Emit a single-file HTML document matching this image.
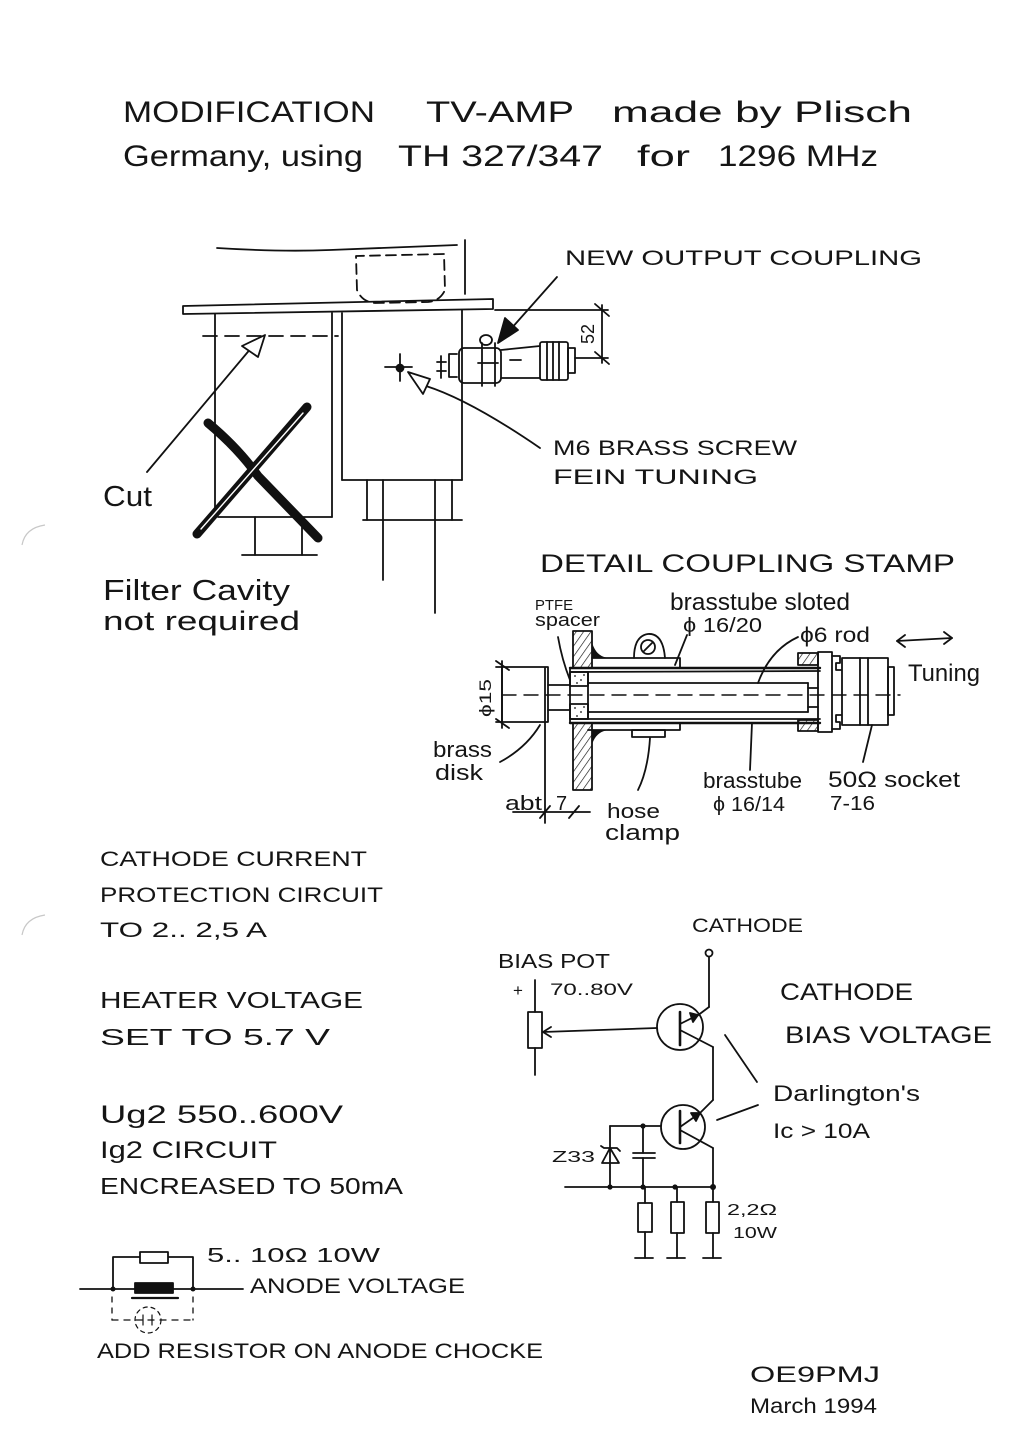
<!DOCTYPE html>
<html><head><meta charset="utf-8"><style>
html,body{margin:0;padding:0;background:#fff;}
svg{display:block;}
text{font-family:"Liberation Sans",sans-serif;fill:#151515;}
</style></head><body>
<svg width="1013" height="1455" viewBox="0 0 1013 1455" xmlns="http://www.w3.org/2000/svg">
<defs>
<pattern id="hatch" patternUnits="userSpaceOnUse" width="6" height="6" patternTransform="rotate(35)">
<line x1="0" y1="0" x2="0" y2="6" stroke="#111" stroke-width="1.3"/>
</pattern>
</defs>
<rect width="1013" height="1455" fill="#fff"/>
<!-- punch holes -->
<path d="M22 545 Q25 528 45 525" fill="none" stroke="#c8c8c8" stroke-width="1.2"/>
<path d="M22 935 Q25 918 45 915" fill="none" stroke="#c8c8c8" stroke-width="1.2"/>

<!-- TITLE -->
<text x="123" y="122" font-size="30" textLength="252" lengthAdjust="spacingAndGlyphs">MODIFICATION</text>
<text x="426" y="122" font-size="30" textLength="148" lengthAdjust="spacingAndGlyphs">TV-AMP</text>
<text x="612" y="122" font-size="30" textLength="300" lengthAdjust="spacingAndGlyphs">made by Plisch</text>
<text x="123" y="166" font-size="30" textLength="240" lengthAdjust="spacingAndGlyphs">Germany, using</text>
<text x="398" y="166" font-size="30" textLength="205" lengthAdjust="spacingAndGlyphs">TH 327/347</text>
<text x="637" y="166" font-size="30" textLength="53" lengthAdjust="spacingAndGlyphs">for</text>
<text x="718" y="166" font-size="30" textLength="160" lengthAdjust="spacingAndGlyphs">1296 MHz</text>

<g fill="none" stroke="#111" stroke-width="1.8" stroke-linecap="round" stroke-linejoin="round">
<!-- TOP DRAWING -->
<path d="M217 248 Q280 252 330 250 L457 245"/>
<line x1="465" y1="240" x2="465" y2="294"/>
<path d="M357 290 L356 256 L444 254 L445 290 Q440 301 428 302 L375 303 Q362 302 357 290" stroke-dasharray="10 6"/>
<polygon points="183,306 493,299 493,309 183,314"/>
<!-- left cavity -->
<line x1="215" y1="314" x2="215" y2="517"/>
<line x1="332" y1="313" x2="332" y2="517"/>
<line x1="218" y1="517" x2="332" y2="517"/>
<line x1="203" y1="336" x2="338" y2="336" stroke-dasharray="14 8"/>
<line x1="255" y1="517" x2="255" y2="555"/>
<line x1="302" y1="517" x2="302" y2="555"/>
<line x1="242" y1="555" x2="317" y2="555"/>
<!-- right cavity -->
<line x1="342" y1="313" x2="342" y2="480"/>
<line x1="462" y1="310" x2="462" y2="480"/>
<line x1="342" y1="480" x2="462" y2="480"/>
<line x1="367" y1="480" x2="367" y2="520"/>
<line x1="452" y1="480" x2="452" y2="520"/>
<line x1="363" y1="520" x2="462" y2="520"/>
<line x1="383" y1="480" x2="383" y2="580"/>
<line x1="435" y1="480" x2="435" y2="613"/>
<!-- cut arrow -->
<line x1="147" y1="472" x2="252" y2="347"/>
<polygon points="265,335 242,346 258,357" fill="#fff"/>
<!-- crosshair -->
<line x1="385" y1="367" x2="412" y2="367"/>
<line x1="400" y1="354" x2="400" y2="381"/>
<circle cx="400" cy="368" r="3.5" fill="#111"/>
<!-- M6 arrow -->
<path d="M540 448 Q470 400 426 386"/>
<polygon points="408,372 430,379 423,394" fill="#fff"/>
<!-- new output coupling arrow -->
<line x1="557" y1="277" x2="510" y2="330"/>
<polygon points="498,343 505,318 518,330" fill="#111"/>
<!-- coupling assembly -->
<path d="M457 354 L449 354 L449 377 L457 377"/>
<line x1="441" y1="356" x2="441" y2="378"/>
<line x1="437" y1="362" x2="446" y2="362"/>
<line x1="437" y1="371" x2="446" y2="371"/>
<rect x="459" y="348" width="42" height="35" rx="5"/>
<line x1="482" y1="343" x2="482" y2="386"/>
<line x1="495" y1="343" x2="495" y2="386"/>
<line x1="478" y1="363" x2="498" y2="363"/>
<ellipse cx="486" cy="340" rx="6" ry="5"/>
<line x1="501" y1="350" x2="540" y2="346"/>
<line x1="501" y1="378" x2="540" y2="378"/>
<line x1="510" y1="360" x2="521" y2="360"/>
<rect x="540" y="342" width="28" height="38" rx="2"/>
<line x1="547" y1="342" x2="547" y2="380"/>
<line x1="553" y1="342" x2="553" y2="380"/>
<line x1="559" y1="342" x2="559" y2="380"/>
<rect x="568" y="348" width="7" height="25"/>
<!-- dim 52 -->
<line x1="495" y1="310" x2="608" y2="310"/>
<line x1="575" y1="358" x2="608" y2="358"/>
<line x1="602" y1="305" x2="602" y2="363"/>
<line x1="595" y1="304" x2="609" y2="316"/>
<line x1="595" y1="352" x2="609" y2="364"/>
</g>
<!-- big X -->
<g stroke-linecap="round" fill="none">
<path d="M208 423 Q238 448 258 476 L318 538" stroke="#111" stroke-width="9"/>
<line x1="307" y1="407" x2="197" y2="534" stroke="#111" stroke-width="9"/>
<line x1="303" y1="413" x2="201" y2="529" stroke="#fff" stroke-width="1.4"/>
</g>
<text x="0" y="0" font-size="18" transform="translate(594,344) rotate(-90)" textLength="20" lengthAdjust="spacingAndGlyphs">52</text>

<text x="565" y="265" font-size="21" textLength="357" lengthAdjust="spacingAndGlyphs">NEW OUTPUT COUPLING</text>
<text x="553" y="455" font-size="21" textLength="244" lengthAdjust="spacingAndGlyphs">M6 BRASS SCREW</text>
<text x="553" y="484" font-size="21" textLength="205" lengthAdjust="spacingAndGlyphs">FEIN TUNING</text>
<text x="103" y="506" font-size="29" textLength="49" lengthAdjust="spacingAndGlyphs">Cut</text>
<text x="103" y="600" font-size="29" textLength="187" lengthAdjust="spacingAndGlyphs">Filter Cavity</text>
<text x="103" y="630" font-size="27" textLength="197" lengthAdjust="spacingAndGlyphs">not required</text>

<!-- DETAIL -->
<text x="540" y="572" font-size="25" textLength="415" lengthAdjust="spacingAndGlyphs">DETAIL COUPLING STAMP</text>
<g fill="none" stroke="#111" stroke-width="1.8" stroke-linecap="round" stroke-linejoin="round">
<!-- wall -->
<rect x="573" y="631" width="19" height="37" fill="url(#hatch)"/>
<rect x="573" y="723" width="19" height="67" fill="url(#hatch)"/>
<path d="M592 644 Q596 656 606 658 L592 658 Z" fill="#111" stroke-width="1"/>
<path d="M592 743 Q596 732 606 730 L592 730 Z" fill="#111" stroke-width="1"/>
<!-- disk -->
<rect x="502" y="667" width="46" height="55"/>
<line x1="545" y1="668" x2="545" y2="721"/>
<line x1="496" y1="667" x2="502" y2="667"/>
<line x1="496" y1="722" x2="502" y2="722"/>
<line x1="548" y1="685" x2="570" y2="685"/>
<line x1="548" y1="710" x2="570" y2="710"/>
<!-- tube -->
<line x1="570" y1="668" x2="820" y2="668" stroke-width="2.4"/>
<line x1="570" y1="672" x2="820" y2="671"/>
<line x1="570" y1="719" x2="820" y2="719"/>
<line x1="570" y1="723" x2="820" y2="723" stroke-width="2.4"/>
<line x1="570" y1="668" x2="570" y2="723"/>
<!-- rod -->
<line x1="588" y1="683" x2="808" y2="683"/>
<line x1="588" y1="712" x2="808" y2="712"/>
<line x1="588" y1="672" x2="588" y2="719"/>
<line x1="808" y1="683" x2="808" y2="712"/>
<line x1="808" y1="688" x2="818" y2="688"/>
<line x1="808" y1="707" x2="818" y2="707"/>
<rect x="570" y="672" width="18" height="14"/>
<rect x="570" y="704" width="18" height="15"/>
<line x1="502" y1="695" x2="900" y2="695" stroke-dasharray="14 8" stroke-width="1.4"/>
<!-- sleeves -->
<path d="M592 658 L680 658 L680 668"/>
<path d="M588 730 L680 730 L680 723"/>
<rect x="632" y="730" width="33" height="7"/>
<path d="M634 658 Q634 636 648 634 Q663 633 665 658"/>
<circle cx="648" cy="647" r="7"/>
<line x1="644" y1="651" x2="652" y2="643"/>
<!-- right end -->
<rect x="798" y="653" width="20" height="12" fill="url(#hatch)"/>
<rect x="798" y="720" width="20" height="11" fill="url(#hatch)"/>
<rect x="818" y="652" width="14" height="80"/>
<path d="M832 656 L840 656 L840 663 L836 663 L836 670 L841 670 M832 729 L840 729 L840 722 L836 722 L836 715 L841 715"/>
<rect x="842" y="658" width="46" height="67"/>
<line x1="860" y1="658" x2="860" y2="725"/>
<line x1="868" y1="658" x2="868" y2="725"/>
<rect x="888" y="667" width="6" height="48"/>
<!-- phi15 dim -->
<line x1="502" y1="661" x2="502" y2="728"/>
<line x1="496" y1="661" x2="509" y2="670"/>
<line x1="496" y1="719" x2="509" y2="728"/>
<!-- abt 7 dim -->
<line x1="545" y1="722" x2="545" y2="823"/>
<line x1="513" y1="812" x2="590" y2="812"/>
<line x1="540" y1="818" x2="550" y2="806"/>
<line x1="569" y1="818" x2="579" y2="806"/>
<!-- leaders -->
<path d="M558 637 Q562 660 570 680"/>
<line x1="687" y1="635" x2="675" y2="665"/>
<path d="M798 637 Q770 650 758 683"/>
<path d="M500 762 Q526 748 540 725"/>
<line x1="752" y1="723" x2="750" y2="770"/>
<line x1="872" y1="725" x2="863" y2="762"/>
<path d="M650 738 Q648 770 638 790"/>
<!-- tuning arrow -->
<line x1="897" y1="641" x2="952" y2="638"/>
<path d="M905 635 L897 641 L905 647"/>
<path d="M944 632 L952 638 L944 644"/>
</g>
<g fill="#111">
<circle cx="575" cy="676" r="0.9"/><circle cx="581" cy="680" r="0.9"/><circle cx="577" cy="683" r="0.9"/><circle cx="584" cy="675" r="0.9"/>
<circle cx="575" cy="708" r="0.9"/><circle cx="581" cy="712" r="0.9"/><circle cx="577" cy="716" r="0.9"/><circle cx="584" cy="707" r="0.9"/>
</g>
<text x="535" y="610" font-size="15" textLength="38" lengthAdjust="spacingAndGlyphs">PTFE</text>
<text x="535" y="626" font-size="18" textLength="65" lengthAdjust="spacingAndGlyphs">spacer</text>
<text x="670" y="610" font-size="24" textLength="180" lengthAdjust="spacingAndGlyphs">brasstube sloted</text>
<text x="683" y="632" font-size="20" textLength="79" lengthAdjust="spacingAndGlyphs">ϕ 16/20</text>
<text x="800" y="642" font-size="21" textLength="70" lengthAdjust="spacingAndGlyphs">ϕ6 rod</text>
<text x="908" y="681" font-size="24" textLength="72" lengthAdjust="spacingAndGlyphs">Tuning</text>
<text x="0" y="0" font-size="17" transform="translate(491,717) rotate(-90)" textLength="38" lengthAdjust="spacingAndGlyphs">ϕ15</text>
<text x="433" y="757" font-size="22" textLength="59" lengthAdjust="spacingAndGlyphs">brass</text>
<text x="435" y="780" font-size="22" textLength="48" lengthAdjust="spacingAndGlyphs">disk</text>
<text x="505" y="810" font-size="20" textLength="37" lengthAdjust="spacingAndGlyphs">abt</text>
<text x="556" y="810" font-size="20">7</text>
<text x="607" y="818" font-size="20" textLength="53" lengthAdjust="spacingAndGlyphs">hose</text>
<text x="605" y="840" font-size="22" textLength="75" lengthAdjust="spacingAndGlyphs">clamp</text>
<text x="703" y="788" font-size="22" textLength="99" lengthAdjust="spacingAndGlyphs">brasstube</text>
<text x="713" y="811" font-size="20" textLength="72" lengthAdjust="spacingAndGlyphs">ϕ 16/14</text>
<text x="828" y="787" font-size="22" textLength="132" lengthAdjust="spacingAndGlyphs">50Ω socket</text>
<text x="830" y="810" font-size="20" textLength="45" lengthAdjust="spacingAndGlyphs">7-16</text>

<!-- LEFT TEXT -->
<text x="100" y="866" font-size="21" textLength="267" lengthAdjust="spacingAndGlyphs">CATHODE CURRENT</text>
<text x="100" y="902" font-size="21" textLength="283" lengthAdjust="spacingAndGlyphs">PROTECTION CIRCUIT</text>
<text x="100" y="937" font-size="21" textLength="167" lengthAdjust="spacingAndGlyphs">TO 2.. 2,5 A</text>
<text x="100" y="1008" font-size="23" textLength="263" lengthAdjust="spacingAndGlyphs">HEATER VOLTAGE</text>
<text x="100" y="1045" font-size="23" textLength="230" lengthAdjust="spacingAndGlyphs">SET TO 5.7 V</text>
<text x="100" y="1123" font-size="25" textLength="243" lengthAdjust="spacingAndGlyphs">Ug2 550..600V</text>
<text x="100" y="1158" font-size="24" textLength="177" lengthAdjust="spacingAndGlyphs">Ig2 CIRCUIT</text>
<text x="100" y="1194" font-size="23" textLength="303" lengthAdjust="spacingAndGlyphs">ENCREASED TO 50mA</text>

<!-- CIRCUIT -->
<g fill="none" stroke="#111" stroke-width="1.8" stroke-linecap="round" stroke-linejoin="round">
<circle cx="709" cy="953" r="3.5"/>
<line x1="709" y1="957" x2="709" y2="1007"/>
<line x1="709" y1="1007" x2="697" y2="1016"/>
<circle cx="680" cy="1027" r="23"/>
<line x1="680" y1="1012" x2="680" y2="1045" stroke-width="2.6"/>
<line x1="680" y1="1024" x2="698" y2="1015"/>
<path d="M690 1013 L698 1015 L693 1022 Z" fill="#111"/>
<line x1="680" y1="1030" x2="713" y2="1047"/>
<line x1="713" y1="1047" x2="713" y2="1100"/>
<line x1="657" y1="1028" x2="543" y2="1032"/>
<path d="M551 1027 L543 1032 L551 1037"/>
<circle cx="683" cy="1127" r="22"/>
<line x1="680" y1="1111" x2="680" y2="1143" stroke-width="2.6"/>
<line x1="680" y1="1127" x2="700" y2="1113"/>
<path d="M691 1113 L700 1113 L696 1121 Z" fill="#111"/>
<line x1="700" y1="1113" x2="713" y2="1100"/>
<line x1="680" y1="1130" x2="713" y2="1148"/>
<line x1="713" y1="1148" x2="713" y2="1187"/>
<line x1="661" y1="1126" x2="610" y2="1126"/>
<line x1="610" y1="1126" x2="610" y2="1187"/>
<path d="M601 1146 L604 1148 L617 1148 L620 1151"/>
<polygon points="610,1148 602,1163 619,1163"/>
<line x1="643" y1="1126" x2="643" y2="1153"/>
<line x1="633" y1="1153" x2="655" y2="1153"/>
<line x1="633" y1="1158" x2="655" y2="1158"/>
<line x1="643" y1="1158" x2="643" y2="1187"/>
<line x1="565" y1="1187" x2="713" y2="1187"/>
<line x1="645" y1="1187" x2="645" y2="1203"/>
<rect x="638" y="1203" width="14" height="29"/>
<line x1="645" y1="1232" x2="645" y2="1258"/>
<line x1="635" y1="1258" x2="653" y2="1258"/>
<line x1="677" y1="1187" x2="677" y2="1202"/>
<rect x="671" y="1202" width="13" height="31"/>
<line x1="677" y1="1233" x2="677" y2="1258"/>
<line x1="667" y1="1258" x2="685" y2="1258"/>
<line x1="713" y1="1187" x2="713" y2="1202"/>
<rect x="706" y="1202" width="13" height="31"/>
<line x1="713" y1="1233" x2="713" y2="1258"/>
<line x1="703" y1="1258" x2="721" y2="1258"/>
<line x1="535" y1="980" x2="535" y2="1012"/>
<rect x="528" y="1012" width="14" height="36"/>
<line x1="535" y1="1048" x2="535" y2="1075"/>
<line x1="725" y1="1035" x2="757" y2="1082"/>
<line x1="717" y1="1120" x2="758" y2="1105"/>
</g>
<g fill="#111">
<circle cx="643" cy="1126" r="2.6"/>
<circle cx="610" cy="1187" r="2.6"/>
<circle cx="643" cy="1187" r="2.6"/>
<circle cx="675" cy="1187" r="2.6"/>
<circle cx="713" cy="1187" r="3"/>
</g>
<text x="692" y="932" font-size="19" textLength="111" lengthAdjust="spacingAndGlyphs">CATHODE</text>
<text x="498" y="968" font-size="20" textLength="112" lengthAdjust="spacingAndGlyphs">BIAS POT</text>
<text x="513" y="996" font-size="17">+</text>
<text x="550" y="995" font-size="17" textLength="83" lengthAdjust="spacingAndGlyphs">70..80V</text>
<text x="780" y="1000" font-size="24" textLength="133" lengthAdjust="spacingAndGlyphs">CATHODE</text>
<text x="785" y="1043" font-size="24" textLength="207" lengthAdjust="spacingAndGlyphs">BIAS VOLTAGE</text>
<text x="773" y="1101" font-size="22" textLength="147" lengthAdjust="spacingAndGlyphs">Darlington's</text>
<text x="773" y="1138" font-size="21" textLength="97" lengthAdjust="spacingAndGlyphs">Ic &gt; 10A</text>
<text x="552" y="1162" font-size="16" textLength="43" lengthAdjust="spacingAndGlyphs">Z33</text>
<text x="727" y="1215" font-size="16" textLength="50" lengthAdjust="spacingAndGlyphs">2,2Ω</text>
<text x="733" y="1238" font-size="16" textLength="44" lengthAdjust="spacingAndGlyphs">10W</text>

<!-- ANODE -->
<g fill="none" stroke="#111" stroke-width="1.8" stroke-linecap="round" stroke-linejoin="round">
<line x1="80" y1="1289" x2="243" y2="1289"/>
<path d="M113 1289 L113 1257 L193 1257 L193 1289"/>
<rect x="140" y="1252" width="28" height="11" fill="#fff"/>
<rect x="135" y="1283" width="38" height="10" fill="#111"/>
<line x1="132" y1="1298" x2="178" y2="1298" stroke-width="2.2"/>
<line x1="112" y1="1297" x2="112" y2="1320" stroke-dasharray="5 6" stroke-width="1.3"/>
<line x1="193" y1="1297" x2="193" y2="1320" stroke-dasharray="5 6" stroke-width="1.3"/>
<line x1="112" y1="1320" x2="193" y2="1320" stroke-dasharray="6 6" stroke-width="1.3"/>
<circle cx="148" cy="1320" r="13" stroke-dasharray="4 4" stroke-width="1.2"/>
<line x1="143" y1="1315" x2="143" y2="1325" stroke-width="1.2"/>
<line x1="152" y1="1315" x2="152" y2="1325" stroke-width="1.2"/>
</g>
<circle cx="113" cy="1289" r="2.5" fill="#111"/>
<circle cx="193" cy="1289" r="2.5" fill="#111"/>
<text x="207" y="1262" font-size="20" textLength="173" lengthAdjust="spacingAndGlyphs">5.. 10Ω 10W</text>
<text x="250" y="1293" font-size="21" textLength="215" lengthAdjust="spacingAndGlyphs">ANODE VOLTAGE</text>
<text x="97" y="1358" font-size="21" textLength="446" lengthAdjust="spacingAndGlyphs">ADD RESISTOR ON ANODE CHOCKE</text>

<text x="750" y="1382" font-size="22" textLength="130" lengthAdjust="spacingAndGlyphs">OE9PMJ</text>
<text x="750" y="1413" font-size="21" textLength="127" lengthAdjust="spacingAndGlyphs">March 1994</text>
</svg>
</body></html>
